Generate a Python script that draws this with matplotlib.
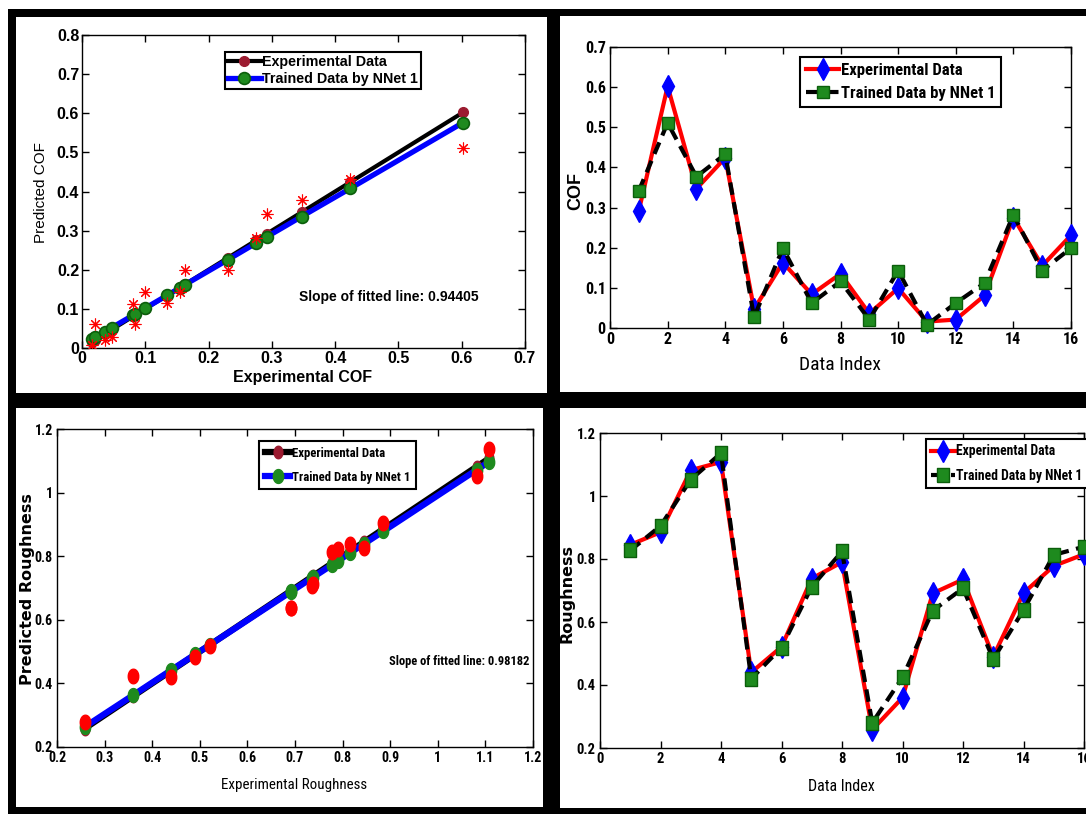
import numpy as np
import matplotlib
matplotlib.use('Agg')
import matplotlib.pyplot as plt
from matplotlib.patches import Rectangle
from matplotlib import font_manager as fm

# ---------------- data ----------------
data_index = list(range(1, 17))

cof_exp = [0.292, 0.602, 0.347, 0.424, 0.047, 0.163, 0.084, 0.135,
           0.036, 0.099, 0.016, 0.021, 0.081, 0.275, 0.155, 0.231]
cof_nn = [0.342, 0.511, 0.377, 0.433, 0.027, 0.199, 0.062, 0.116,
          0.021, 0.143, 0.008, 0.062, 0.112, 0.282, 0.143, 0.199]
cof_fit = [0.284, 0.576, 0.336, 0.408, 0.052, 0.162, 0.087, 0.135,
           0.042, 0.101, 0.023, 0.028, 0.084, 0.268, 0.154, 0.226]

rough_exp = [0.845, 0.885, 1.082, 1.108, 0.440, 0.521, 0.738, 0.790,
             0.258, 0.360, 0.691, 0.735, 0.490, 0.692, 0.778, 0.815]
rough_nn = [0.827, 0.905, 1.052, 1.136, 0.420, 0.519, 0.712, 0.824,
            0.280, 0.424, 0.636, 0.707, 0.482, 0.638, 0.813, 0.839]
rough_fit = [0.839, 0.878, 1.072, 1.097, 0.442, 0.521, 0.734, 0.785,
             0.263, 0.363, 0.688, 0.731, 0.491, 0.689, 0.773, 0.810]

cof_slope_text = "Slope of fitted line: 0.94405"
rough_slope_text = "Slope of fitted line: 0.98182"
legend_labels = ["Experimental Data", "Trained Data by NNet 1"]

tl_xticks = [0, 0.1, 0.2, 0.3, 0.4, 0.5, 0.6, 0.7]
tl_xticklabels = ["0", "0.1", "0.2", "0.3", "0.4", "0.5", "0.6", "0.7"]
tl_yticks = [0, 0.1, 0.2, 0.3, 0.4, 0.5, 0.6, 0.7, 0.8]
tl_yticklabels = ["0", "0.1", "0.2", "0.3", "0.4", "0.5", "0.6", "0.7", "0.8"]
idx_ticks = [0, 2, 4, 6, 8, 10, 12, 14, 16]
idx_ticklabels = ["0", "2", "4", "6", "8", "10", "12", "14", "16"]
tr_yticks = [0, 0.1, 0.2, 0.3, 0.4, 0.5, 0.6, 0.7]
tr_yticklabels = ["0", "0.1", "0.2", "0.3", "0.4", "0.5", "0.6", "0.7"]
bl_xticks = [0.2, 0.3, 0.4, 0.5, 0.6, 0.7, 0.8, 0.9, 1.0, 1.1, 1.2]
bl_xticklabels = ["0.2", "0.3", "0.4", "0.5", "0.6", "0.7", "0.8", "0.9", "1", "1.1", "1.2"]
r_yticks = [0.2, 0.4, 0.6, 0.8, 1.0, 1.2]
r_yticklabels = ["0.2", "0.4", "0.6", "0.8", "1", "1.2"]

# ---------------- fonts ----------------
names = {f.name for f in fm.fontManager.ttflist}
WIDE = 'Liberation Sans' if 'Liberation Sans' in names else 'DejaVu Sans'
narrow_family, narrow_stretch, narrow_scale = WIDE, 'normal', 0.86
for cand in ['Liberation Sans Narrow', 'Arial Narrow', 'Roboto Condensed', 'Open Sans Condensed']:
    if cand in names:
        narrow_family, narrow_stretch, narrow_scale = cand, 'normal', 1.0
        break
else:
    for f in fm.fontManager.ttflist:
        if f.stretch in ('condensed', 'semi-condensed') and 'Sans' in f.name:
            narrow_family, narrow_stretch, narrow_scale = f.name, f.stretch, 1.0
            break


def FP(kind, size, weight='normal'):
    if kind == 'narrow':
        return fm.FontProperties(family=narrow_family, stretch=narrow_stretch,
                                 size=size * narrow_scale, weight=weight)
    if kind == 'dv':
        return fm.FontProperties(family='DejaVu Sans', size=size, weight=weight)
    return fm.FontProperties(family=WIDE, size=size, weight=weight)


# ---------------- figure & frames ----------------
W, H, DPI = 1086, 814, 100
fig = plt.figure(figsize=(W / DPI, H / DPI), dpi=DPI, facecolor='white')


def rect_px(x0, y0, x1, y1, color, z):
    fig.patches.append(Rectangle((x0 / W, 1 - y1 / H), (x1 - x0) / W, (y1 - y0) / H,
                                 transform=fig.transFigure, facecolor=color,
                                 edgecolor='none', zorder=z))


rect_px(8, 9, W, H, 'black', -20)
rect_px(16, 17, 547, 393, 'white', -19)
rect_px(560, 16, W, 392, 'white', -19)
rect_px(16, 408, 543, 807, 'white', -19)
rect_px(560, 408, W, 808, 'white', -19)


def add_ax(l, t, r, b):
    ax = fig.add_axes([l / W, 1 - b / H, (r - l) / W, (b - t) / H])
    ax.set_facecolor('white')
    for s in ax.spines.values():
        s.set_linewidth(1.0)
        s.set_color('black')
    ax.tick_params(direction='in', top=True, right=True, length=5, width=1,
                   colors='black', pad=3)
    return ax


def set_ticks(ax, xt, xl, yt, yl, fp):
    ax.set_xticks(xt)
    ax.set_xticklabels(xl, fontproperties=fp)
    ax.set_yticks(yt)
    ax.set_yticklabels(yl, fontproperties=fp)


def ellipse(aspect):
    t = np.linspace(0, 2 * np.pi, 48)
    return np.column_stack([aspect * np.cos(t), np.sin(t)])


def tall_rect(aspect):
    return np.array([[-aspect, -1], [aspect, -1], [aspect, 1], [-aspect, 1], [-aspect, -1]])


MAROON = '#9b1b30'
GREEN = '#1e8a1e'
GREEN_E = '#0b5e0b'
BLUE = '#0000ff'
RED = '#ff0000'


def leg(ax, handles, x_px, y_px, fp, hl, ls, bp):
    lg = ax.legend(handles=handles, labels=legend_labels, loc='upper left',
                   bbox_to_anchor=(x_px / W, 1 - y_px / H), bbox_transform=fig.transFigure,
                   prop=fp, frameon=True, fancybox=False, framealpha=1,
                   edgecolor='black', handlelength=hl, handletextpad=0.1,
                   labelspacing=ls, borderpad=bp, borderaxespad=0)
    lg.get_frame().set_linewidth(1.5)
    return lg


# ============ Top-left: COF regression ============
ax1 = add_ax(82, 35, 525, 348)
order = np.argsort(cof_exp)
ce = np.array(cof_exp)[order]
cf = np.array(cof_fit)[order]
h1, = ax1.plot(ce, ce, '-', color='black', lw=3.0, marker='o', ms=7,
               mfc=MAROON, mec=MAROON, zorder=3)
h2, = ax1.plot(ce, cf, '-', color=BLUE, lw=3.8, marker='o', ms=8.5,
               mfc=GREEN, mec=GREEN_E, mew=1.2, zorder=4)
ax1.plot(cof_exp, cof_nn, ls='none', marker=(8, 2, 0), ms=8.5, mec=RED,
         mew=0.8, zorder=5)
ax1.set_xlim(0, 0.7)
ax1.set_ylim(0, 0.8)
set_ticks(ax1, tl_xticks, tl_xticklabels, tl_yticks, tl_yticklabels, FP('wide', 11.5, 'bold'))
ax1.tick_params(pad=2)
ax1.set_xlabel("Experimental COF", fontproperties=FP('wide', 11.5, 'bold'))
ax1.xaxis.set_label_coords(0.497, -0.093)
ax1.xaxis.label.set_va('center')
ax1.set_ylabel("Predicted COF", fontproperties=FP('wide', 11, 'normal'))
ax1.yaxis.set_label_coords(-0.093, 0.497)
ax1.yaxis.label.set_va('center')
ax1.text((299 - 82) / 443, (348 - 297) / 313, cof_slope_text, transform=ax1.transAxes,
         fontproperties=FP('wide', 10, 'bold'), ha='left', va='center')
leg(ax1, [h1, h2], 225, 52, FP('wide', 10.3, 'bold'), 2.3, 0.22, 0.2)

# ============ Top-right: COF vs index ============
ax2 = add_ax(610, 47, 1071, 328)
g1, = ax2.plot(data_index, cof_exp, '-', color=RED, lw=3.0, marker='d', ms=11,
               mfc=BLUE, mec=BLUE, zorder=3)
g2, = ax2.plot(data_index, cof_nn, '--', color='black', lw=3.0, dashes=(3, 1.8),
               marker='s', ms=8.5, mfc=GREEN, mec=GREEN_E, mew=1.0, zorder=4)
ax2.set_xlim(0, 16)
ax2.set_ylim(0, 0.7)
set_ticks(ax2, idx_ticks, idx_ticklabels, tr_yticks, tr_yticklabels, FP('narrow', 11.5, 'bold'))
ax2.set_xlabel("Data Index", fontproperties=FP('narrow', 14, 'normal'))
ax2.xaxis.set_label_coords(0.499, -0.132)
ax2.xaxis.label.set_va('center')
ax2.set_ylabel("COF", fontproperties=FP('wide', 13, 'bold'))
ax2.yaxis.set_label_coords(-0.074, 0.488)
ax2.yaxis.label.set_va('center')
for g in (g1, g2):
    g.set_clip_on(False)
leg(ax2, [g1, g2], 800, 57, FP('narrow', 12, 'bold'), 2.0, 0.5, 0.35)

# ============ Bottom-left: Roughness regression ============
ax3 = add_ax(57, 429, 533, 747)
order = np.argsort(rough_exp)
re_ = np.array(rough_exp)[order]
rf = np.array(rough_fit)[order]
k1, = ax3.plot(re_, re_, '-', color='black', lw=4.5, marker=ellipse(0.7), ms=9,
               mfc=MAROON, mec=MAROON, zorder=3)
k2, = ax3.plot(re_, rf, '-', color=BLUE, lw=4.5, marker=ellipse(0.75), ms=10,
               mfc=GREEN, mec=GREEN, zorder=4)
ax3.plot(rough_exp, rough_nn, ls='none', marker=ellipse(0.72), ms=10.5, mfc=RED,
         mec=RED, zorder=5)
ax3.set_xlim(0.2, 1.2)
ax3.set_ylim(0.2, 1.2)
set_ticks(ax3, bl_xticks, bl_xticklabels, r_yticks, r_yticklabels, FP('narrow', 10, 'bold'))
ax3.set_xlabel("Experimental Roughness", fontproperties=FP('narrow', 10.8, 'normal'))
ax3.xaxis.set_label_coords(0.499, -0.119)
ax3.xaxis.label.set_va('center')
ax3.set_ylabel("Predicted Roughness", fontproperties=FP('dv', 11.5, 'bold'))
ax3.yaxis.set_label_coords(-0.061, 0.498)
ax3.yaxis.label.set_va('center')
ax3.text((389 - 57) / 476, (747 - 662) / 318, rough_slope_text, transform=ax3.transAxes,
         fontproperties=FP('narrow', 9, 'bold'), ha='left', va='center')
leg(ax3, [k1, k2], 259, 441, FP('narrow', 9.2, 'bold'), 2.0, 0.85, 0.45)

# ============ Bottom-right: Roughness vs index ============
ax4 = add_ax(600, 433, 1084, 748)
m1, = ax4.plot(data_index, rough_exp, '-', color=RED, lw=3.0, marker='d', ms=11,
               mfc=BLUE, mec=BLUE, zorder=3)
m2, = ax4.plot(data_index, rough_nn, '--', color='black', lw=3.0, dashes=(3, 1.8),
               marker=tall_rect(0.8), ms=10, mfc=GREEN, mec=GREEN_E, mew=1.0, zorder=4)
ax4.set_xlim(0, 16)
ax4.set_ylim(0.2, 1.2)
set_ticks(ax4, idx_ticks, idx_ticklabels, r_yticks, r_yticklabels, FP('narrow', 10.5, 'bold'))
ax4.set_xlabel("Data Index", fontproperties=FP('narrow', 11.5, 'normal'))
ax4.xaxis.set_label_coords(0.499, -0.121)
ax4.xaxis.label.set_va('center')
ax4.set_ylabel("Roughness", fontproperties=FP('dv', 11.5, 'bold'))
ax4.yaxis.set_label_coords(-0.068, 0.492)
ax4.yaxis.label.set_va('center')
for m in (m1, m2):
    m.set_clip_on(False)
leg(ax4, [m1, m2], 926, 439, FP('narrow', 9.8, 'bold'), 1.7, 0.75, 0.4)

fig.savefig('out.png', dpi=DPI, facecolor='white')
